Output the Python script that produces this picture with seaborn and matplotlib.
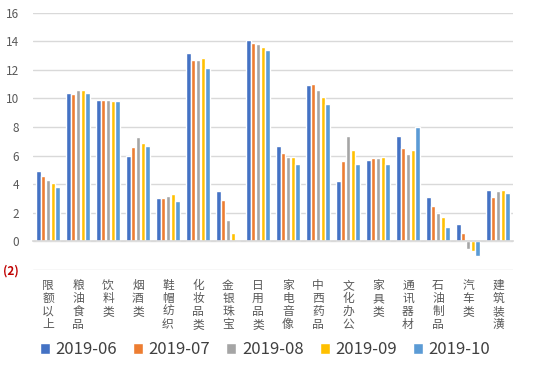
import matplotlib
matplotlib.use("Agg")
import matplotlib.pyplot as plt
import seaborn as sns
import pandas as pd
from matplotlib.ticker import FixedLocator, FuncFormatter

categories = ["限额以上", "粮油食品", "饮料类", "烟酒类", "鞋帽纺织", "化妆品类", "金银珠宝", "日用品类",
              "家电音像", "中西药品", "文化办公", "家具类", "通讯器材", "石油制品", "汽车类", "建筑装潢"]
months = ["2019-06", "2019-07", "2019-08", "2019-09", "2019-10"]
v_2019_06 = [4.9, 10.4, 9.9, 6.0, 3.0, 13.2, 3.5, 14.1, 6.7, 10.9, 4.2, 5.7, 7.4, 3.1, 1.2, 3.6]
v_2019_07 = [4.6, 10.3, 9.9, 6.6, 3.0, 12.7, 2.9, 13.9, 6.2, 11.0, 5.6, 5.8, 6.5, 2.5, 0.6, 3.1]
v_2019_08 = [4.3, 10.6, 9.9, 7.3, 3.2, 12.7, 1.5, 13.8, 5.9, 10.6, 7.4, 5.8, 6.1, 2.0, -0.5, 3.5]
v_2019_09 = [4.1, 10.6, 9.8, 6.9, 3.3, 12.8, 0.6, 13.6, 5.9, 10.1, 6.4, 5.9, 6.4, 1.7, -0.7, 3.6]
v_2019_10 = [3.8, 10.4, 9.8, 6.7, 2.8, 12.1, 0.1, 13.4, 5.4, 9.6, 5.4, 5.4, 8.0, 1.0, -1.0, 3.4]
yticks = [-2, 0, 2, 4, 6, 8, 10, 12, 14, 16]

series = [v_2019_06, v_2019_07, v_2019_08, v_2019_09, v_2019_10]
rows = []
for m, vals in zip(months, series):
    for c, v in zip(categories, vals):
        rows.append({"cat": c, "month": m, "value": v})
df = pd.DataFrame(rows)

palette = ["#4472C4", "#ED7D31", "#A5A5A5", "#FFC000", "#5B9BD5"]

sns.set_theme(style="white")
plt.rcParams["font.family"] = ["Noto Sans CJK SC", "DejaVu Sans"]

fig = plt.figure(figsize=(5.54, 3.72), dpi=100)
ax = fig.add_axes([33 / 554, 1 - 270 / 372, (513 - 33) / 554, (270 - 12.5) / 372])

sns.barplot(data=df, x="cat", y="value", hue="month", palette=palette, ax=ax,
            width=0.8, gap=0.1, saturation=1, errorbar=None, legend=True)

ax.set_ylim(-2, 16)
ax.set_xlim(-0.5, len(categories) - 0.5)
ax.set_yticks(yticks)
ax.yaxis.set_major_formatter(FuncFormatter(lambda v, p: f"({abs(int(v))})" if v < 0 else f"{int(v)}"))
for lab in ax.get_yticklabels():
    if lab.get_text().startswith("("):
        lab.set_color("#C00000")
        lab.set_fontweight("bold")
    else:
        lab.set_color("#595959")
    lab.set_fontsize(8.5)
ax.tick_params(axis="y", length=0, pad=10)
ax.yaxis.grid(True, color="#D9D9D9", linewidth=1)
ax.set_axisbelow(True)
for s in ["top", "right", "left"]:
    ax.spines[s].set_visible(False)
ax.spines["bottom"].set_position(("data", 0))
ax.spines["bottom"].set_color("#D9D9D9")
ax.set_xticks(range(len(categories)))
ax.set_xticklabels(["\n".join(c) for c in categories], fontsize=8.5, color="#595959", linespacing=1.0, va="top")
ax.tick_params(axis="x", length=0, pad=27)
ax.xaxis.set_minor_locator(FixedLocator([i - 0.5 for i in range(len(categories) + 1)]))
ax.tick_params(axis="x", which="minor", length=3, color="#D9D9D9", direction="out")
ax.set_xlabel("")
ax.set_ylabel("")

handles, labels = ax.get_legend_handles_labels()
ax.legend(handles, labels, loc="center", ncol=5, frameon=False,
          fontsize=12, handlelength=0.6, handleheight=0.6, handletextpad=0.35, columnspacing=0.95,
          labelcolor="#404040")
leg = ax.get_legend()
leg.set_bbox_to_anchor((265 / 554, 1 - 350 / 372), transform=fig.transFigure)

fig.savefig("out.png", dpi=100)
